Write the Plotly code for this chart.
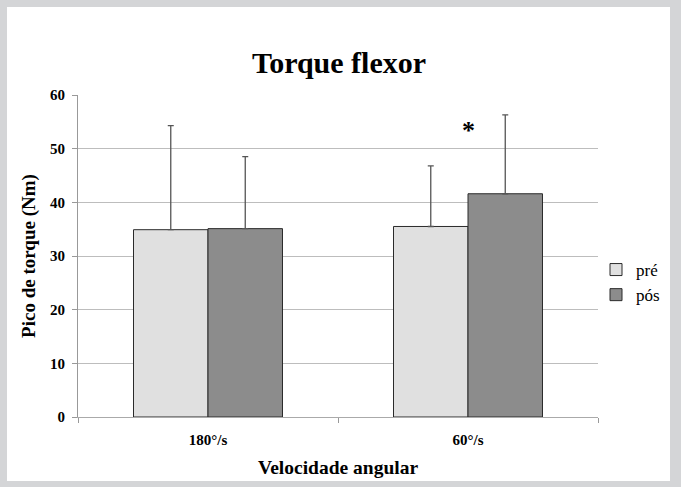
import plotly.graph_objects as go

categories = ["180°/s", "60°/s"]
series_names = ["pré", "pós"]
pre_values = [34.9, 35.5]
pos_values = [35.1, 41.6]
pre_errors = [19.4, 11.3]
pos_errors = [13.4, 14.7]
y_ticks = [0, 10, 20, 30, 40, 50, 60]
star_category = "60°/s"
star_value = 53.4

FONT = '"Liberation Serif", "Times New Roman", Times, "DejaVu Serif", serif'
W, H = 681, 487
L, R, T, B = 78, 83, 95, 70
pw, ph = W - L - R, H - T - B

fig = go.Figure()
fig.add_trace(go.Bar(
    name=series_names[0], x=categories, y=pre_values,
    marker=dict(color="#e0e0e0", line=dict(color="#2a2a2a", width=1)),
    error_y=dict(type="data", symmetric=False, array=pre_errors,
                 arrayminus=[0] * len(pre_errors),
                 color="#555555", thickness=1.3, width=3),
))
fig.add_trace(go.Bar(
    name=series_names[1], x=categories, y=pos_values,
    marker=dict(color="#8c8c8c", line=dict(color="#2a2a2a", width=1)),
    error_y=dict(type="data", symmetric=False, array=pos_errors,
                 arrayminus=[0] * len(pos_errors),
                 color="#555555", thickness=1.3, width=3),
))

def px_x(px):
    return (px - L) / pw

def px_y(py):
    return (H - B - py) / ph

fig.add_shape(type="rect", xref="paper", yref="paper",
              x0=px_x(7), x1=px_x(670), y0=px_y(481), y1=px_y(7),
              fillcolor="white", line=dict(width=0), layer="below")

fig.add_annotation(x=star_category, y=star_value, xref="x", yref="y",
                   text="*", showarrow=False,
                   font=dict(family=FONT, size=26, color="black", weight="bold"))

fig.update_layout(
    width=W, height=H,
    margin=dict(l=L, r=R, t=T, b=B, pad=0),
    paper_bgcolor="#d4d5d7",
    plot_bgcolor="white",
    barmode="group", bargap=0.427, bargroupgap=0,
    title=dict(text="Torque flexor", x=(L + px_x(339) * pw) / W, xanchor="center",
               y=1 - 62 / H, yanchor="middle", yref="container",
               font=dict(family=FONT, size=30, color="black", weight="bold")),
    legend=dict(x=px_x(596), y=px_y(252), xanchor="left", yanchor="top",
                bgcolor="rgba(0,0,0,0)",
                font=dict(family=FONT, size=17, color="black")),
    xaxis=dict(
        tickson="boundaries", ticks="outside", ticklen=5, tickcolor="#999999",
        showline=True, linecolor="#aaaaaa", linewidth=1,
        tickfont=dict(family=FONT, size=15, color="black", weight="bold"),
        ticklabelstandoff=9,
        title=dict(text="Velocidade angular", standoff=13,
                   font=dict(family=FONT, size=19.5, color="black", weight="bold")),
    ),
    yaxis=dict(
        range=[0, 60], tickvals=y_ticks, ticks="outside", ticklen=5,
        tickcolor="#999999", showline=True, linecolor="#999999", linewidth=1,
        showgrid=True, gridcolor="#bdbdbd", gridwidth=1, zeroline=False,
        tickfont=dict(family=FONT, size=15, color="black", weight="bold"),
        ticklabelstandoff=4,
        title=dict(text="Pico de torque (Nm)", standoff=9,
                   font=dict(family=FONT, size=19, color="black", weight="bold")),
    ),
)

fig.write_html("out.html", config={"displayModeBar": False},
               post_script="document.body.style.margin='0';document.body.style.padding='0';")
